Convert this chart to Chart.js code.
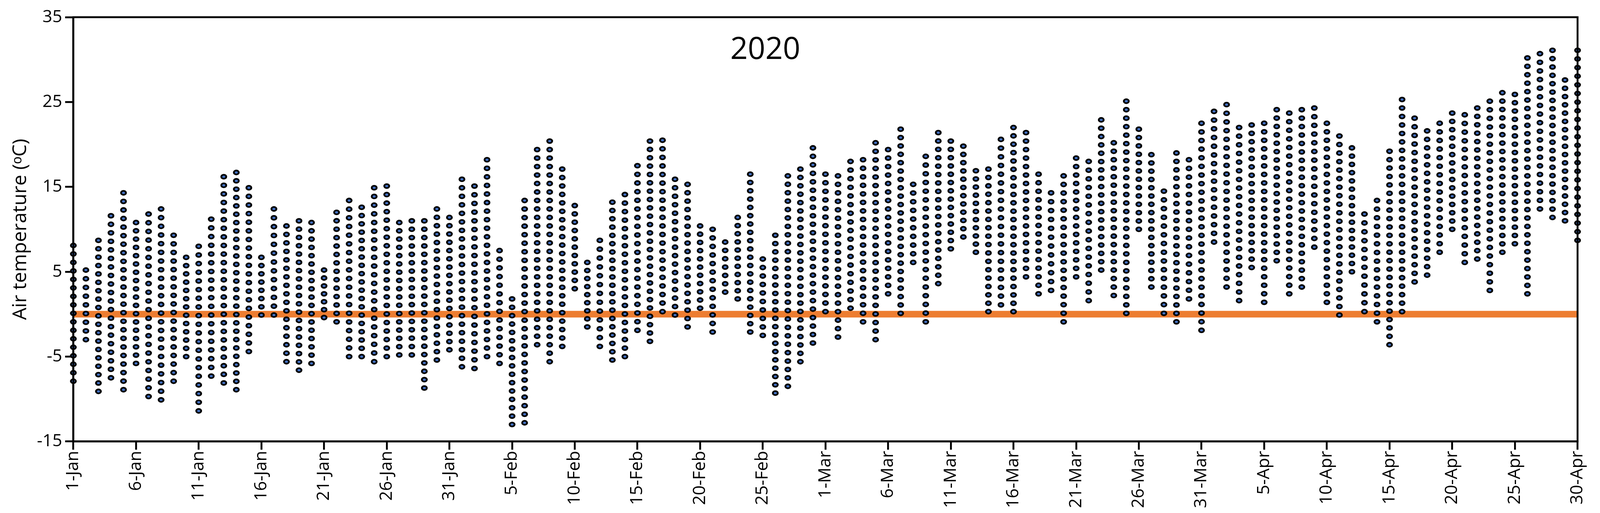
<!DOCTYPE html>
<html><head><meta charset="utf-8">
<script src="https://cdn.jsdelivr.net/npm/chart.js@4"></script>
<style>html,body{margin:0;padding:0;background:#fff;overflow:hidden}#wrap{width:100vw;height:100vh;position:relative}</style>
</head><body><div id="wrap"><canvas id="c"></canvas></div>
<script>
const monthNames = ['Jan','Feb','Mar','Apr'];
const monthDays = [31,29,31,30];
const dailyMax = [8.1,5.2,8.7,11.6,14.3,10.8,11.8,12.4,9.3,6.7,8.0,11.2,16.2,16.7,14.9,6.7,12.4,10.4,11.0,10.8,5.2,
 12.0,13.4,12.6,14.9,15.1,10.8,11.0,11.0,12.4,11.4,15.9,15.1,18.2,7.5,1.8,13.4,19.4,20.4,17.1,12.8,
 6.1,8.7,13.2,14.1,17.5,20.4,20.5,15.9,15.3,10.4,10.0,8.5,11.4,16.5,6.5,9.3,16.3,17.1,19.6,16.5,
 16.3,18.0,18.2,20.2,19.4,21.8,15.3,18.6,21.4,20.4,19.8,16.9,17.1,20.6,22.0,21.4,16.5,14.3,16.3,18.4,
 18.0,22.9,20.2,25.1,21.8,18.8,14.5,19.0,18.2,22.5,23.9,24.7,22.0,22.3,22.5,24.1,23.7,24.1,24.3,22.5,
 21.0,19.6,11.8,13.4,19.2,25.3,23.1,21.6,22.5,23.7,23.5,24.3,25.1,26.1,25.9,30.2,30.7,31.1,27.6,31.1];
const dailyMin = [-7.9,-3.0,-9.1,-7.5,-8.9,-5.8,-9.7,-10.1,-7.9,-5.0,-11.4,-7.3,-8.1,-8.9,-4.4,-0.1,-0.1,-5.6,-6.6,-5.8,-0.4,
 -0.9,-5.0,-5.0,-5.6,-5.0,-4.8,-4.8,-8.7,-5.4,-4.2,-6.2,-6.4,-5.0,-5.8,-13.0,-12.8,-3.6,-5.6,-3.8,3.0,
 -1.5,-3.8,-5.4,-5.0,-1.9,-3.2,0.3,-0.1,-1.5,0.7,-2.1,2.6,1.8,-2.1,-2.5,-9.3,-8.5,-5.6,-3.4,0.3,
 -2.7,0.7,-0.9,-3.0,2.4,0.1,6.1,-0.9,3.6,7.7,9.1,7.3,0.3,1.1,0.3,4.4,2.4,2.8,-0.9,4.4,
 1.6,5.2,2.2,0.1,10.0,3.2,0.1,-0.9,1.8,-1.9,8.5,3.2,1.6,5.5,1.4,6.3,2.4,3.2,7.9,1.4,
 -0.1,5.0,0.3,-0.9,-3.6,0.3,3.8,4.6,7.3,10.0,6.1,6.5,2.8,7.3,8.3,2.4,12.4,11.4,11.0,8.7];
const tickLabels = ['1-Jan','6-Jan','11-Jan','16-Jan','21-Jan','26-Jan','31-Jan','5-Feb','10-Feb','15-Feb','20-Feb','25-Feb','1-Mar','6-Mar','11-Mar','16-Mar','21-Mar','26-Mar','31-Mar','5-Apr','10-Apr','15-Apr','20-Apr','25-Apr','30-Apr'];
const yTicks = [-15,-5,5,15,25,35];
const freezing = 0;
const titleText = '2020';

const categories = [];
monthNames.forEach((m,i)=>{for(let d=1;d<=monthDays[i];d++)categories.push(d+'-'+m);});

const S = window.innerWidth/4278;
const FONT = '"Open Sans", sans-serif';

const dotPlugin = {
  id:'dots',
  afterDatasetsDraw(chart){
    const ctx = chart.ctx, ys = chart.scales.y;
    const step = (ys.getPixelForValue(0)-ys.getPixelForValue(1))*1.0;
    const meta = chart.getDatasetMeta(1);
    ctx.save();
    meta.data.forEach(el=>{
      const top = Math.min(el.y, el.base), bot = Math.max(el.y, el.base);
      const n = Math.max(1, Math.round((bot-top)/step));
      for(let k=0;k<=n;k++){
        const py = bot - (bot-top)*k/n;
        ctx.beginPath(); ctx.ellipse(el.x, py, 9*S, 7.5*S, 0, 0, Math.PI*2);
        ctx.fillStyle='#000'; ctx.fill();
        ctx.beginPath(); ctx.ellipse(el.x, py, 4*S, 3*S, 0, 0, Math.PI*2);
        ctx.fillStyle='#4472C4'; ctx.fill();
      }
    });
    ctx.restore();
  },
  afterDraw(chart){
    const ctx = chart.ctx, a = chart.chartArea;
    ctx.save();
    ctx.fillStyle='#000'; ctx.font=(82*S)+'px '+FONT;
    ctx.textAlign='center'; ctx.textBaseline='middle';
    ctx.fillText(titleText, a.left+(a.right-a.left)*0.46, a.top+88*S);
    ctx.lineWidth=5*S; ctx.strokeStyle='#000';
    ctx.strokeRect(a.left, a.top, a.right-a.left, a.bottom-a.top);
    ctx.restore();
  }
};

new Chart(document.getElementById('c'), {
  data:{
    labels: categories,
    datasets:[
      {type:'line', data: categories.map(()=>freezing), borderColor:'#ED7D31', borderWidth:18*S, pointRadius:0, order:2},
      {type:'bar', data: categories.map((c,i)=>[dailyMin[i], dailyMax[i]]), backgroundColor:'rgba(0,0,0,0)', barPercentage:0.5, order:1}
    ]
  },
  options:{
    responsive:true, maintainAspectRatio:false, animation:false,
    layout:{padding:{left:20*S,right:60*S,top:46*S,bottom:10*S}},
    plugins:{legend:{display:false}, tooltip:{enabled:false}},
    scales:{
      x:{offset:false,
        grid:{display:true, drawOnChartArea:false, offset:false, color:'#000', lineWidth:5*S, tickLength:22*S, tickColor:'#000'},
        border:{color:'#000', width:5*S},
        ticks:{autoSkip:false, maxRotation:90, minRotation:90, color:'#000', font:{size:46*S, family:FONT},
          callback:(v,i)=> (i%5===0 ? tickLabels[i/5] : null)}},
      y:{min:-15, max:35,
        afterBuildTicks:(s)=>{s.ticks = yTicks.map(v=>({value:v}));},
        grid:{drawOnChartArea:false, color:'#000', lineWidth:5*S, tickLength:22*S},
        border:{color:'#000', width:5*S},
        ticks:{color:'#000', font:{size:46*S, family:FONT}, padding:8*S},
        title:{display:true, text:'Air temperature (ᵒC)', color:'#000', font:{size:52*S, family:FONT}}}
    }
  },
  plugins:[dotPlugin]
});
</script></body></html>
